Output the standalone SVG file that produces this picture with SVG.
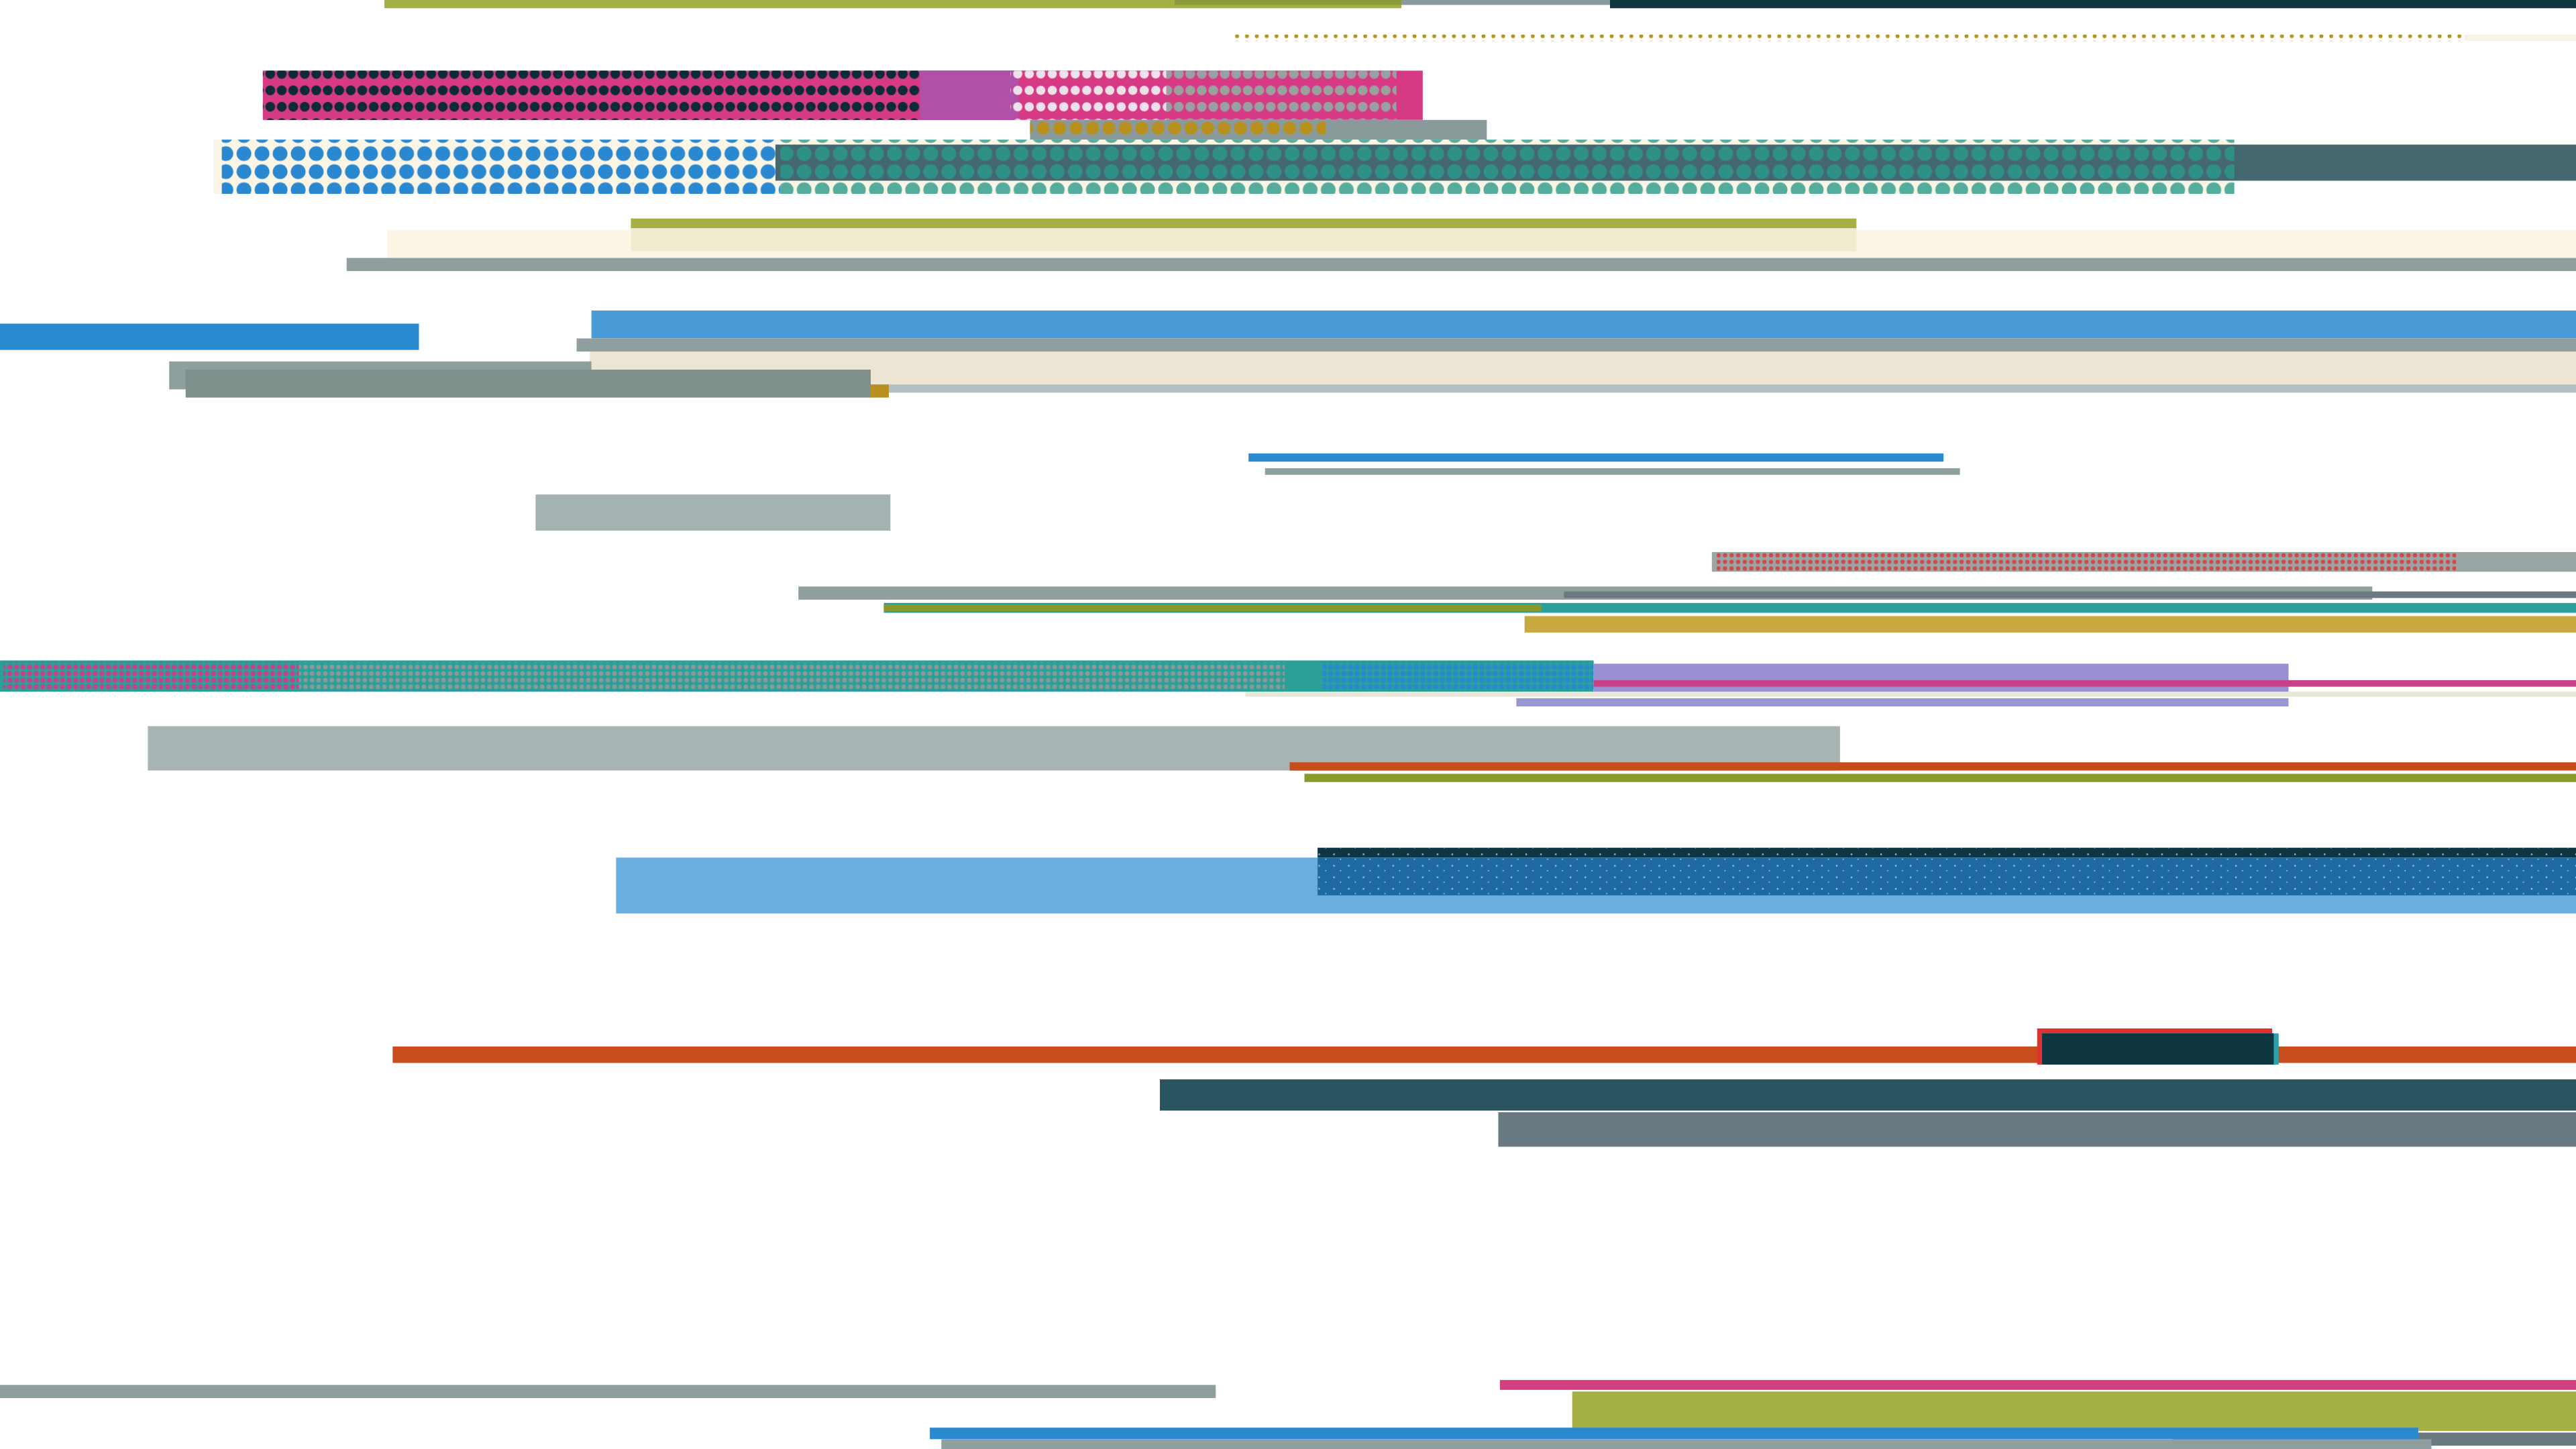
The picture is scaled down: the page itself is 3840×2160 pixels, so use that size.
<svg xmlns="http://www.w3.org/2000/svg" width="3840" height="2160" viewBox="0 0 3840 2160">
<defs>
<pattern id="pdark" width="7" height="10" patternUnits="userSpaceOnUse"><circle cx="3.5" cy="5" r="3" fill="#0d2a38"/></pattern>
<pattern id="pwhite" width="7" height="10" patternUnits="userSpaceOnUse"><circle cx="3.5" cy="5" r="2.8" fill="#f0e0e8"/></pattern>
<pattern id="pgreyd" width="7" height="10" patternUnits="userSpaceOnUse"><circle cx="3.5" cy="5" r="3" fill="#9aa0a0"/></pattern>
<pattern id="pblue" width="11" height="11" patternUnits="userSpaceOnUse"><circle cx="5.5" cy="5.5" r="4.5" fill="#2a88d0"/></pattern>
<pattern id="pteal" width="11" height="11" patternUnits="userSpaceOnUse"><circle cx="5.5" cy="5.5" r="4.5" fill="#2a9a8a"/></pattern>
<pattern id="pgold" width="10" height="12" patternUnits="userSpaceOnUse"><circle cx="5" cy="6" r="4" fill="#b8901e"/></pattern>
<pattern id="pred" width="4" height="4" patternUnits="userSpaceOnUse"><circle cx="2" cy="2" r="1.3" fill="#e03030"/></pattern>
<pattern id="pmag" width="4" height="4" patternUnits="userSpaceOnUse"><circle cx="2" cy="2" r="1.5" fill="#c84088"/></pattern>
<pattern id="pgr" width="4" height="4" patternUnits="userSpaceOnUse"><circle cx="2" cy="2" r="1.4" fill="#8a9a9a"/></pattern>
<pattern id="pbl2" width="4" height="4" patternUnits="userSpaceOnUse"><circle cx="2" cy="2" r="1.6" fill="#2a88d0"/></pattern>
<pattern id="pspeck" width="9" height="7" patternUnits="userSpaceOnUse"><circle cx="2" cy="2" r="0.5" fill="#9ac8e8"/><circle cx="6" cy="5" r="0.4" fill="#9ac8e8"/></pattern>
<pattern id="poline" width="6" height="4" patternUnits="userSpaceOnUse"><circle cx="3" cy="2" r="1.2" fill="#b8901e"/></pattern>
</defs>
<rect width="3840" height="2160" fill="#ffffff"/>
<g transform="scale(2.449)">
<rect x="234" y="0" width="619" height="5" fill="#a4b043"/>
<rect x="715" y="0" width="138" height="3" fill="#8a9a3a"/>
<rect x="853" y="0" width="127" height="3" fill="#8a9a9a"/>
<rect x="980" y="0" width="588" height="5" fill="#0d3640"/>
<rect x="750" y="21" width="750" height="4" fill="url(#poline)"/>
<rect x="1500" y="21" width="68" height="4" fill="#f6f4e8"/>

<rect x="160" y="43" width="706" height="30" fill="#d63a84"/>
<rect x="160" y="43" width="400" height="30" fill="url(#pdark)"/>
<rect x="560" y="43" width="60" height="30" fill="#b050a8"/>
<rect x="615" y="43" width="95" height="30" fill="url(#pwhite)"/>
<rect x="710" y="43" width="140" height="30" fill="url(#pgreyd)"/>
<rect x="627" y="73" width="278" height="12" fill="#8a9a9a"/>
<rect x="627" y="73" width="180" height="12" fill="url(#pgold)"/>

<rect x="130" y="85" width="1230" height="33" fill="#fbf5e6"/>
<rect x="135" y="85" width="340" height="33" fill="url(#pblue)"/>
<rect x="472" y="88" width="1096" height="22" fill="#456870"/>
<rect x="475" y="85" width="885" height="33" fill="url(#pteal)" opacity="0.8"/>

<rect x="236" y="140" width="1332" height="17" fill="#fbf5e6"/>
<rect x="384" y="133" width="746" height="6" fill="#a4b043"/>
<rect x="384" y="139" width="746" height="14" fill="#f0ecd0"/>
<rect x="211" y="157" width="1357" height="8" fill="#8f9e9e"/>

<rect x="0" y="197" width="255" height="16" fill="#2a8ad0"/>
<rect x="360" y="189" width="1208" height="17" fill="#4a9ad6"/>
<rect x="351" y="206" width="1217" height="8" fill="#8f9e9e"/>
<rect x="359" y="214" width="1209" height="20" fill="#ede5d3"/>
<rect x="103" y="220" width="257" height="17" fill="#8f9e9e"/>
<rect x="515" y="234" width="1053" height="5" fill="#b0c0c4"/>
<rect x="113" y="225" width="417" height="17" fill="#7f8f8c"/>
<rect x="530" y="234" width="11" height="8" fill="#b8901e"/>

<rect x="760" y="276" width="423" height="5" fill="#2a8ad0"/>
<rect x="770" y="285" width="423" height="4" fill="#8f9e9e"/>
<rect x="326" y="301" width="216" height="22" fill="#a5b2b2"/>

<rect x="1042" y="336" width="526" height="12" fill="#9aa6a6"/>
<rect x="1045" y="336" width="450" height="12" fill="url(#pred)" opacity="0.8"/>
<rect x="486" y="357" width="958" height="8" fill="#8f9e9e"/>
<rect x="952" y="360" width="616" height="4" fill="#6a7a80"/>
<rect x="538" y="367" width="1030" height="6" fill="#2aa09a"/>
<rect x="538" y="368" width="400" height="4" fill="#8a9a2a"/>
<rect x="928" y="375" width="640" height="10" fill="#c8a840"/>

<rect x="758" y="421" width="810" height="3" fill="#e8e8d8"/>
<rect x="0" y="402" width="970" height="19" fill="#2aa098"/>
<rect x="2" y="403" width="180" height="17" fill="url(#pmag)"/>
<rect x="182" y="403" width="600" height="17" fill="url(#pgr)"/>
<rect x="805" y="403" width="165" height="17" fill="url(#pbl2)"/>
<rect x="970" y="404" width="423" height="17" fill="#9890d0"/>
<rect x="970" y="414" width="598" height="4" fill="#c84088"/>
<rect x="923" y="425" width="470" height="5" fill="#9898d0"/>

<rect x="90" y="442" width="1030" height="27" fill="#a8b4b4"/>
<rect x="785" y="464" width="783" height="5" fill="#c84c1c"/>
<rect x="794" y="471" width="774" height="5" fill="#8a9a2a"/>

<rect x="375" y="522" width="1193" height="34" fill="#6aaee0"/>
<rect x="802" y="516" width="766" height="6" fill="#0d3640"/>
<rect x="802" y="522" width="766" height="23" fill="#1e6aa0"/>
<rect x="802" y="516" width="766" height="29" fill="url(#pspeck)"/>

<rect x="239" y="637" width="1329" height="10" fill="#c84c1c"/>
<rect x="1240" y="626" width="143" height="22" fill="#e03030"/>
<rect x="1243" y="629" width="144" height="19" fill="#2aa0a8"/>
<rect x="1243" y="629" width="141" height="19" fill="#0d3640"/>
<rect x="706" y="657" width="862" height="19" fill="#2a5560"/>
<rect x="912" y="677" width="656" height="21" fill="#6a7a82"/>

<rect x="0" y="843" width="740" height="8" fill="#8f9e9e"/>
<rect x="913" y="840" width="655" height="6" fill="#d04080"/>
<rect x="957" y="847" width="611" height="24" fill="#a4b043"/>
<rect x="1322" y="872" width="246" height="8" fill="#6a7a80"/>
<rect x="566" y="869" width="906" height="7" fill="#2a8ad0"/>
<rect x="573" y="876" width="907" height="6" fill="#8f9e9e"/>
</g>
</svg>
